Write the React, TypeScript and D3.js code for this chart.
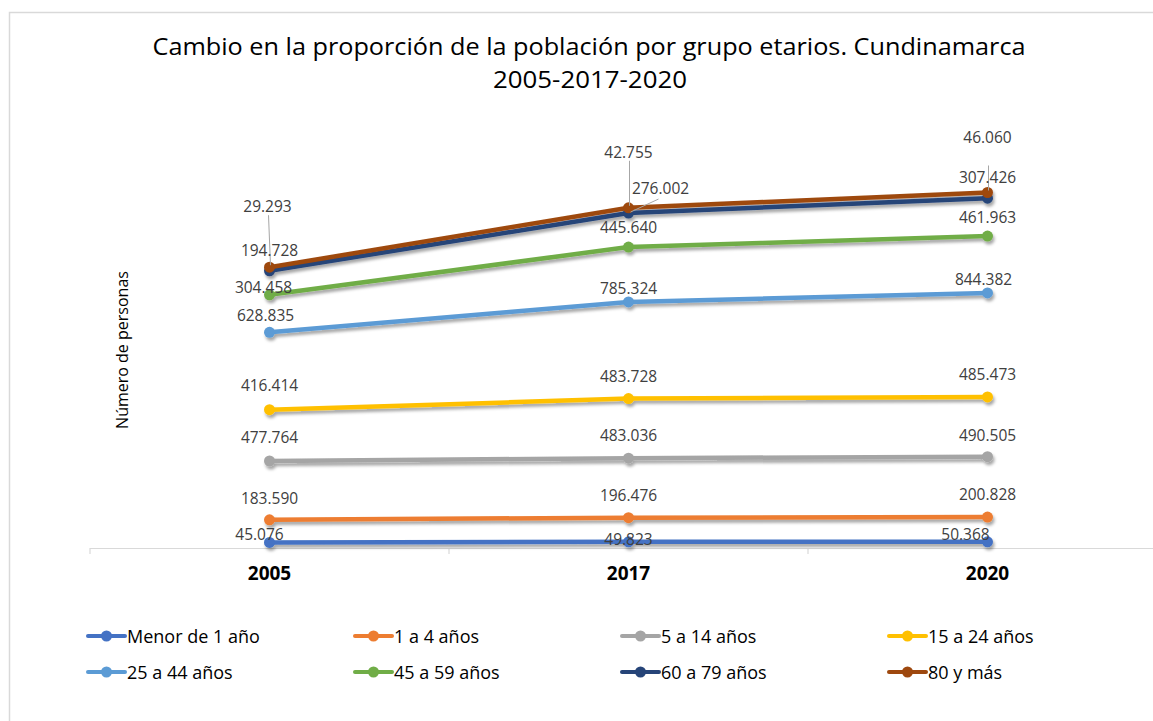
import React from "react";
import * as d3 from "d3";

const YEARS = ["2005", "2017", "2020"];
const SERIES_NAMES = [
  "Menor de 1 año",
  "1 a 4 años",
  "5 a 14 años",
  "15 a 24 años",
  "25 a 44 años",
  "45 a 59 años",
  "60 a 79 años",
  "80 y más",
];
const MENOR_1 = [45076, 49823, 50368];
const A1_4 = [183590, 196476, 200828];
const A5_14 = [477764, 483036, 490505];
const A15_24 = [416414, 483728, 485473];
const A25_44 = [628835, 785324, 844382];
const A45_59 = [304458, 445640, 461963];
const A60_79 = [194728, 276002, 307426];
const A80 = [29293, 42755, 46060];
const SERIES_VALUES = [MENOR_1, A1_4, A5_14, A15_24, A25_44, A45_59, A60_79, A80];
const COLORS = ["#4472C4", "#ED7D31", "#A5A5A5", "#FFC000", "#5B9BD5", "#70AD47", "#264478", "#9E480E"];

// label layout (text centre offset from point), per series per year
const LABEL_DX = [
  [-10, 0, -22], [0, 0, 0], [0, 0, 0], [0, 0, 0],
  [-4, 0, -4], [-6, 0, 0], [0, 32, 0], [-2, 0, 0],
];
const LABEL_DY = [
  [-8, -3, -8], [-22, -23, -23], [-24, -23, -22], [-25, -23, -23],
  [-17, -14, -14], [-8, -20, -19], [-21, -25, -21], [-61, -56, -55],
];
const LEADER = [
  [false, false, false], [false, false, false], [false, false, false], [false, false, false],
  [false, false, false], [false, false, false], [false, true, false], [true, true, true],
];

const fmt = (v: number) => d3.format(",")(v).replace(/,/g, ".");

export default function App() {
  const W = 1153, H = 721;
  const x = d3.scalePoint<string>().domain(YEARS).range([90, 1167]).padding(0.5);
  const y = d3.scaleLinear().domain([0, 3500000]).range([548, 117]);
  const stacked = SERIES_VALUES.map((_, si) =>
    YEARS.map((_, yi) => d3.sum(SERIES_VALUES.slice(0, si + 1), (s) => s[yi]))
  );
  const line = d3.line<number>().x((_, i) => x(YEARS[i])!).y((d) => y(d));
  const step = x.step();
  const tickXs = [0, 1, 2, 3].map((i) => 90 + i * step);
  const font = "'Open Sans', 'Noto Sans', sans-serif";

  return (
    <svg width={W} height={H} style={{ position: "absolute", left: 0, top: 0, background: "#fff" }}>
      <defs>
        <filter id="sh" x="-10%" y="-50%" width="120%" height="200%">
          <feDropShadow dx="1.5" dy="3" stdDeviation="1.5" floodColor="#000" floodOpacity="0.35" />
        </filter>
      </defs>
      <rect x={9.5} y={12.5} width={1300} height={900} fill="#fff" stroke="#D9D9D9" strokeWidth={1.5} />
      <text x={589} y={45} textAnchor="middle" dominantBaseline="central" fontFamily={font} fontSize={24}
        fill="#000" textLength={873} lengthAdjust="spacingAndGlyphs">
        Cambio en la proporción de la población por grupo etarios. Cundinamarca
      </text>
      <text x={590} y={78} textAnchor="middle" dominantBaseline="central" fontFamily={font} fontSize={24}
        fill="#000" textLength={194} lengthAdjust="spacingAndGlyphs">
        2005-2017-2020
      </text>
      <text transform="translate(122,350) rotate(-90)" textAnchor="middle" dominantBaseline="central"
        fontFamily={font} fontSize={16} fill="#000">Número de personas</text>

      {/* axis */}
      <line x1={90} x2={1167} y1={548.5} y2={548.5} stroke="#D9D9D9" strokeWidth={1.2} />
      {tickXs.map((tx, i) => (
        <line key={i} x1={tx} x2={tx} y1={548} y2={554} stroke="#D9D9D9" strokeWidth={1.2} />
      ))}
      {YEARS.map((yr) => (
        <text key={yr} x={x(yr)} y={573} textAnchor="middle" dominantBaseline="central" fontFamily={font}
          fontWeight="bold" fontSize={19} fill="#000">{yr}</text>
      ))}

      {/* lines */}
      <g filter="url(#sh)">
        {stacked.map((s, si) => (
          <g key={si}>
            <path d={line(s)!} fill="none" stroke={COLORS[si]} strokeWidth={4.5} strokeLinejoin="round" strokeLinecap="round" />
            {s.map((v, i) => (
              <circle key={i} cx={x(YEARS[i])} cy={y(v)} r={5.5} fill={COLORS[si]} />
            ))}
          </g>
        ))}
      </g>

      {/* leader lines */}
      {stacked.map((s, si) =>
        s.map((v, i) => {
          if (!LEADER[si][i]) return null;
          const px = x(YEARS[i])!, py = y(v);
          const lx = px + LABEL_DX[si][i], ly = py + LABEL_DY[si][i];
          if (LABEL_DX[si][i] > 10) {
            return <line key={`${si}-${i}`} x1={px + 2} y1={py - 1} x2={lx - 2} y2={ly + 11} stroke="#A6A6A6" strokeWidth={1} />;
          }
          const endY = si === 7 && i === 2 ? py - 27 : ly + 9;
          return <line key={`${si}-${i}`} x1={px + 1} y1={py - 2} x2={lx + 1} y2={endY} stroke="#A6A6A6" strokeWidth={1} />;
        })
      )}

      {/* data labels */}
      {stacked.map((s, si) =>
        s.map((v, i) => (
          <text key={`${si}-${i}`} x={x(YEARS[i])! + LABEL_DX[si][i]} y={y(v) + LABEL_DY[si][i]}
            textAnchor="middle" dominantBaseline="central" fontFamily={font} fontSize={15.5} fill="#404040">
            {fmt(SERIES_VALUES[si][i])}
          </text>
        ))
      )}

      {/* legend */}
      {SERIES_NAMES.map((name, i) => {
        const col = i % 4, row = Math.floor(i / 4);
        const lx = 88 + col * 267, ly = 636 + row * 36;
        return (
          <g key={name}>
            <line x1={lx} x2={lx + 37} y1={ly} y2={ly} stroke={COLORS[i]} strokeWidth={4} strokeLinecap="round" />
            <circle cx={lx + 18.5} cy={ly} r={5.5} fill={COLORS[i]} />
            <text x={lx + 39} y={ly} dominantBaseline="central" fontFamily={font} fontSize={18} fill="#000">{name}</text>
          </g>
        );
      })}
    </svg>
  );
}
